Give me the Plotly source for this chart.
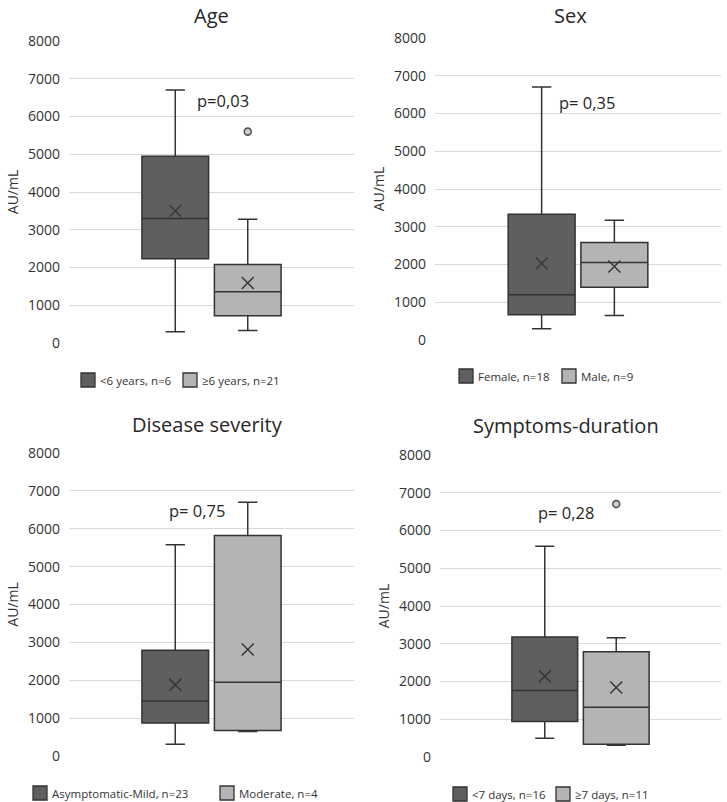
import plotly.graph_objects as go

# ---------------- data ----------------
panel_titles = ["Age", "Sex", "Disease severity", "Symptoms-duration"]
p_values = ["p=0,03", "p= 0,35", "p= 0,75", "p= 0,28"]

group_names = [
    ["<6 years, n=6", "≥6 years, n=21"],
    ["Female, n=18", "Male, n=9"],
    ["Asymptomatic-Mild, n=23", "Moderate, n=4"],
    ["<7 days, n=16", "≥7 days, n=11"],
]
lower_whisker = [[300, 330], [300, 650], [310, 650], [500, 310]]
q1_values = [[2230, 720], [670, 1400], [870, 670], [940, 340]]
median_values = [[3300, 1360], [1200, 2050], [1450, 1950], [1760, 1320]]
q3_values = [[4950, 2080], [3330, 2580], [2790, 5820], [3180, 2790]]
upper_whisker = [[6700, 3280], [6700, 3170], [5580, 6700], [5580, 3160]]
mean_values = [[3500, 1590], [2030, 1950], [1880, 2810], [2140, 1840]]
outliers = [[[], [5600]], [[], []], [[], []], [[], [6700]]]

y_ticks = [0, 1000, 2000, 3000, 4000, 5000, 6000, 7000, 8000]
y_title = "AU/mL"

# ---------------- layout geometry (window pixels) ----------------
W, H = 727, 802


def px(x):
    return x / W


def py(y):
    return 1 - y / H


areas = [(69, 354, 41, 343), (435, 721, 38, 340), (69, 354, 453, 756), (440, 721, 455, 757)]
# (x centre, y, anchor)
title_pos = [(211, 0, "top"), (570, 0, "top"), (207, 424, "middle"), (566, 425, "middle")]
p_pos = [(1.66, 6420), (1.62, 6300), (1.30, 6470), (1.30, 6490)]
legend_y = [380, 376, 793, 794]
legend_swatch_x = [[81, 183], [459, 562], [33, 220], [453, 556]]
SW = 14  # swatch size px

fills = ["#5f5f5f", "#b4b4b4"]
line_col = "#333333"
text_col = "#333333"
FONT = "Open Sans"

fig = go.Figure()
annotations = []
shapes = []
for i in range(4):
    l, r, t, b = areas[i]
    ax = "" if i == 0 else str(i + 1)
    xref = "x" + ax
    yref = "y" + ax
    for g in range(2):
        xpos = g + 1
        fig.add_trace(go.Box(
            x=[xpos], q1=[q1_values[i][g]], median=[median_values[i][g]],
            q3=[q3_values[i][g]], lowerfence=[lower_whisker[i][g]],
            upperfence=[upper_whisker[i][g]],
            width=0.92, whiskerwidth=0.29,
            fillcolor=fills[g], line=dict(color=line_col, width=1.5),
            name=group_names[i][g], xaxis=xref, yaxis=yref,
            boxpoints=False, hoverinfo="y", showlegend=False,
        ))
        fig.add_trace(go.Scatter(
            x=[xpos], y=[mean_values[i][g]], mode="markers",
            marker=dict(symbol="x-thin-open", size=12, color=line_col,
                        line=dict(color=line_col, width=1.4)),
            showlegend=False, xaxis=xref, yaxis=yref,
        ))
        if outliers[i][g]:
            fig.add_trace(go.Scatter(
                x=[xpos] * len(outliers[i][g]), y=outliers[i][g], mode="markers",
                marker=dict(symbol="circle", size=7, color="#d0d0d0",
                            line=dict(color="#555555", width=1.6)),
                showlegend=False, xaxis=xref, yaxis=yref,
            ))
        # manual legend entry
        sx = legend_swatch_x[i][g]
        ly = legend_y[i]
        shapes.append(dict(
            type="rect", xref="paper", yref="paper",
            x0=px(sx), x1=px(sx + SW),
            y0=py(ly + SW / 2), y1=py(ly - SW / 2),
            fillcolor=fills[g], line=dict(color=line_col, width=1.3),
        ))
        annotations.append(dict(
            x=px(sx + SW + 3), y=py(ly), xref="paper", yref="paper",
            text=group_names[i][g], showarrow=False, xanchor="left", yanchor="middle",
            font=dict(family=FONT, size=11.5, color=text_col),
        ))
    fig.layout["xaxis" + ax] = dict(
        domain=[px(l), px(r)], range=[-0.466, 3.466], showticklabels=False,
        showgrid=False, zeroline=False, showline=False, ticks="", anchor=yref,
        fixedrange=True, automargin=False,
    )
    fig.layout["yaxis" + ax] = dict(
        domain=[py(b), py(t)], range=[0, 8000], tickvals=y_ticks,
        showgrid=True, gridcolor="#d9d9d9", gridwidth=1.3, zeroline=False,
        showline=False, ticks="", anchor=xref, automargin=False,
        ticklabelstandoff=8,
        tickfont=dict(family=FONT, size=14, color=text_col),
        title=dict(text=y_title, font=dict(family=FONT, size=14, color=text_col),
                   standoff=6),
        fixedrange=True,
    )
    annotations.append(dict(
        x=px(title_pos[i][0]), y=py(title_pos[i][1]), xref="paper", yref="paper",
        text=panel_titles[i], showarrow=False, xanchor="center",
        yanchor=title_pos[i][2],
        font=dict(family=FONT, size=20, color="#262626"),
    ))
    annotations.append(dict(
        x=p_pos[i][0], y=p_pos[i][1], xref=xref, yref=yref,
        text=p_values[i], showarrow=False, xanchor="center", yanchor="middle",
        font=dict(family=FONT, size=16.5, color="#262626"),
    ))

fig.update_layout(
    width=W, height=H, margin=dict(l=0, r=0, t=0, b=0),
    paper_bgcolor="white", plot_bgcolor="white",
    annotations=annotations, shapes=shapes, boxmode="overlay", showlegend=False,
)
fig.write_html(
    "out.html",
    config={"displayModeBar": False},
    post_script="document.body.style.margin='0';document.body.style.overflow='hidden';",
)
